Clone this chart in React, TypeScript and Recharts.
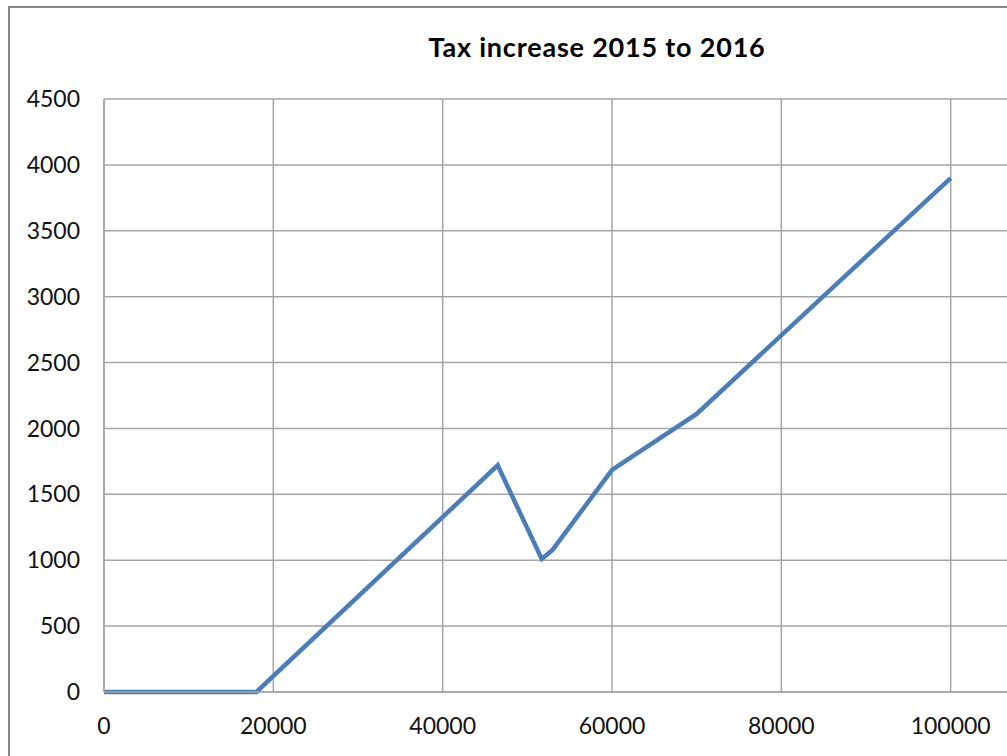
import { CartesianGrid, Line, LineChart, XAxis, YAxis } from "recharts"

// income (x) vs. change in tax bill (y)
const income = [0, 18000, 46500, 51700, 53000, 60000, 70000, 100000]
const increase = [0, 0, 1720, 1010, 1080, 1685, 2110, 3900]

const xTicks = [0, 20000, 40000, 60000, 80000, 100000]
const yTicks = [0, 500, 1000, 1500, 2000, 2500, 3000, 3500, 4000, 4500]

const data = income.map((x, i) => ({ income: x, increase: increase[i] }))

const font = "Lato, 'Open Sans', sans-serif"
const grid = "#a5a5a5"

export default function App() {
  return (
    // the chart frame is wider than the window; only its left part shows
    <div style={{ position: "absolute", left: 8, top: 6, width: 999, height: 750, overflow: "hidden" }}>
      <div
        style={{
          position: "absolute",
          left: 0,
          top: 0,
          width: 1174,
          height: 770,
          border: "2px solid #878787",
          background: "#fff",
        }}
      >
        <div
          style={{
            position: "absolute",
            left: 0,
            width: 1174,
            top: 22,
            textAlign: "center",
            fontFamily: font,
            fontWeight: 700,
            fontSize: 27,
            letterSpacing: 0.8,
            color: "#000",
          }}
        >
          Tax increase 2015 to 2016
        </div>
        <LineChart width={1174} height={770} data={data} margin={{ top: 91, right: 64, bottom: 0, left: 0 }}>
          <CartesianGrid stroke={grid} strokeWidth={1.5} />
          <XAxis
            dataKey="income"
            type="number"
            domain={[0, 120000]}
            ticks={xTicks}
            interval={0}
            height={86}
            tickSize={0}
            tickMargin={26}
            axisLine={{ stroke: grid, strokeWidth: 1.5 }}
            tick={{ fill: "#111", fontSize: 23, fontFamily: font }}
          />
          <YAxis
            type="number"
            domain={[0, 4500]}
            ticks={yTicks}
            interval={0}
            width={94}
            tickSize={0}
            tickMargin={24}
            axisLine={{ stroke: grid, strokeWidth: 1.5 }}
            tick={{ fill: "#111", fontSize: 23, fontFamily: font }}
          />
          <Line
            type="linear"
            dataKey="increase"
            stroke="#4a7ebb"
            strokeWidth={4.5}
            dot={false}
            isAnimationActive={false}
          />
        </LineChart>
      </div>
    </div>
  )
}
